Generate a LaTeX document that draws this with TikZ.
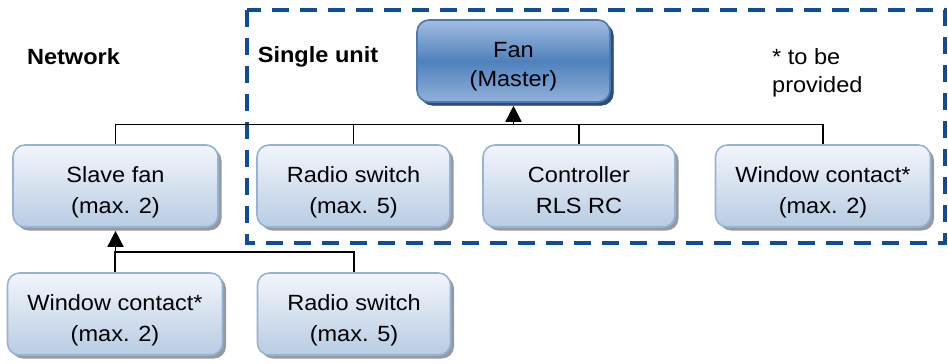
\documentclass[tikz,border=0pt]{standalone}
\usepackage{fontspec}
\setmainfont[FakeStretch=1.07]{Liberation Sans}
\usetikzlibrary{arrows.meta,shadows}
\definecolor{boxline}{HTML}{95B3D7}
\definecolor{boxtop}{HTML}{F2F6FB}
\definecolor{boxbot}{HTML}{B8CCE4}
\definecolor{mastline}{HTML}{4A78B2}
\definecolor{masttop}{HTML}{A3BDE0}
\definecolor{mastmid}{HTML}{4F81BD}
\definecolor{unitblue}{HTML}{0E4D9C}
\tikzset{
  unit/.style={draw=boxline,line width=1.6pt,rounded corners=12pt,
    top color=boxtop,bottom color=boxbot,align=center,
    minimum height=82pt,inner sep=0pt,text height=60pt,text depth=5pt,
    font=\fontsize{22}{31}\selectfont,
    drop shadow={shadow xshift=3.5pt,shadow yshift=-3.5pt,fill=black!40,opacity=1}},
  master/.style={unit,draw=mastline,top color=masttop,bottom color=masttop!80!mastmid,
    middle color=mastmid,font=\fontsize{22}{29}\selectfont,text height=56pt,
    drop shadow={shadow xshift=3.5pt,shadow yshift=-3.5pt,fill=mastmid!60!black,opacity=1}},
  link/.style={line width=1.5pt},
  uparrow/.style={link,-{Triangle[width=16pt,length=16pt]}},
  heading/.style={font=\fontsize{22}{30}\selectfont\bfseries}
}
\begin{document}
\begin{tikzpicture}[x=1pt,y=-1pt]
\useasboundingbox (0,0) rectangle (948,364);
% single unit frame
\draw[unitblue,line width=3.5pt,dash pattern=on 17pt off 11pt] (247,10) rectangle (945,243);
\node[heading] (network) at (73.5,57) {Network};
\node[heading] (single) at (318,57) {Single unit};
\node[font=\fontsize{22}{28}\selectfont,align=left,anchor=west,inner sep=0pt] (note) at (772,73) {* to be\\provided};

% boxes
\node[master,minimum width=193pt] (fan) at (513.5,61) {Fan\\(Master)};
\node[unit,minimum width=205pt] (slave) at (115.5,186) {Slave fan\\(max. 2)};
\node[unit,minimum width=193pt] (radioA) at (353.5,186) {Radio switch\\(max. 5)};
\node[unit,minimum width=192pt] (ctrl) at (579,186) {Controller\\RLS RC};
\node[unit,minimum width=215pt] (winA) at (823,186) {Window contact*\\(max. 2)};
\node[unit,minimum width=215pt] (winB) at (115,314) {Window contact*\\(max. 2)};
\node[unit,minimum width=193pt] (radioB) at (354,314) {Radio switch\\(max. 5)};

% connectors
\coordinate (bus) at (fan.south |- 0,124.5);
\coordinate (busB) at (winB.north |- 0,252);
\draw[link] (slave.north) |- (bus) -| (winA.north);
\draw[link] (radioA.north) -- (radioA.north |- bus);
\draw[link] (ctrl.north) -- (ctrl.north |- bus);
\draw[uparrow] (bus) -- ([yshift=-3pt]fan.south);
\draw[link] (winB.north) |- (busB) -| (radioB.north);
\draw[uparrow] (busB) -- (busB -| slave.south) -- ([yshift=-3pt]slave.south);
\end{tikzpicture}
\end{document}
